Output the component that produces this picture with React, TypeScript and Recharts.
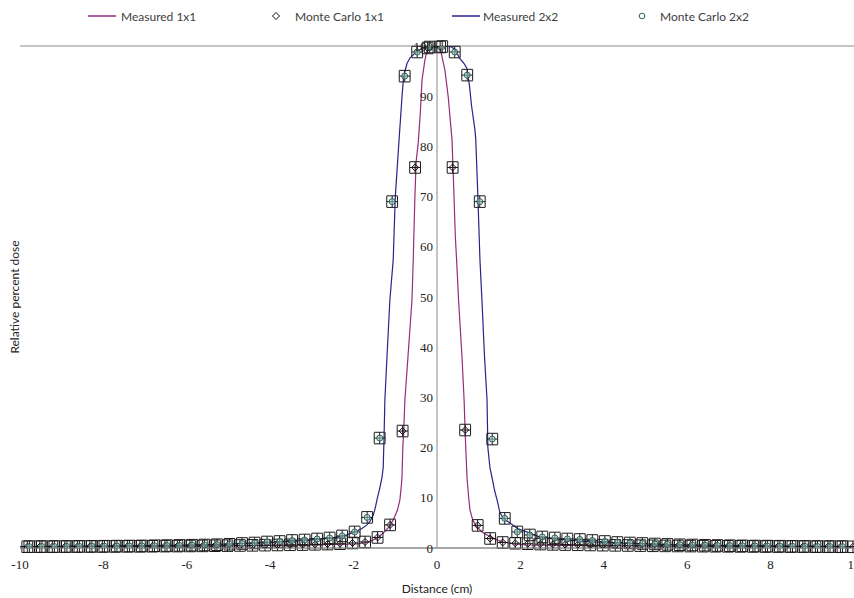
import React from "react";
import {
  ComposedChart,
  Line,
  Scatter,
  ErrorBar,
  XAxis,
  YAxis,
  CartesianGrid,
  ReferenceLine,
  ReferenceDot,
  Legend,
} from "recharts";

const X_TICKS = [-10, -8, -6, -4, -2, 0, 2, 4, 6, 8, 10];
const Y_TICKS = [0, 10, 20, 30, 40, 50, 60, 70, 80, 90, 100];

// measured profiles
const MEAS_1X1_X = [
  -10, -8, -6, -4, -3, -2.5, -1.92, -1.7, -1.53, -1.4, -1.29, -1.15, -1.05, -0.95, -0.89, -0.86, -0.84,
  -0.82, -0.8, -0.77, -0.68, -0.6, -0.57, -0.53, -0.5, -0.45, -0.4, -0.36, -0.29, -0.22, -0.1, 0, 0.07,
  0.13, 0.19, 0.27, 0.36, 0.4, 0.44, 0.47, 0.52, 0.6, 0.65, 0.68, 0.72, 0.76, 0.79, 0.86, 0.96, 1.08,
  1.2, 1.38, 1.58, 1.85, 2.15, 3, 4, 6, 8, 10,
];
const MEAS_1X1_Y = [
  0.25, 0.3, 0.35, 0.5, 0.6, 0.7, 0.8, 1.1, 1.6, 2.2, 3, 4.2, 5.6, 7.5, 9.6, 12, 14,
  20, 23, 29.5, 40, 49.4, 57.4, 70, 77, 80.7, 86.7, 93.2, 97.2, 99.8, 100, 100, 99.8,
  97.5, 95.2, 89.8, 81.3, 72, 62, 57.4, 49, 38, 29.5, 22, 14, 10, 7.6, 5.5, 4.2, 3.2,
  2.6, 1.8, 1.2, 0.8, 0.6, 0.5, 0.45, 0.35, 0.3, 0.25,
];

const MEAS_2X2_X = [
  -10, -8, -6, -5, -4, -3.5, -3, -2.5, -2.2, -2, -1.8, -1.68, -1.6, -1.53, -1.48, -1.44, -1.4, -1.37,
  -1.32, -1.29, -1.27, -1.25, -1.2, -1.13, -1.05, -1, -0.91, -0.84, -0.8, -0.72, -0.65, -0.5, -0.35,
  -0.2, 0, 0.2, 0.35, 0.43, 0.55, 0.65, 0.72, 0.78, 0.83, 0.91, 0.93, 0.98, 1.03, 1.08, 1.14, 1.2,
  1.22, 1.27, 1.32, 1.38, 1.44, 1.51, 1.6, 1.75, 1.95, 2.15, 2.47, 2.8, 3.2, 3.6, 4, 5, 6, 8, 10,
];
const MEAS_2X2_Y = [
  0.3, 0.4, 0.6, 0.8, 1.1, 1.3, 1.6, 2, 2.5, 3.1, 3.9, 4.6, 5.4, 6.5, 8, 9.6, 11, 12,
  14, 16, 22, 29.5, 38, 49.4, 57.4, 70, 81.3, 89.8, 94, 96.5, 97.6, 98.8, 99.6,
  100, 100, 100, 99.8, 99.3, 97.5, 96.5, 95.5, 92, 88, 83.3, 81.3, 70, 57.4, 49, 38, 29.5,
  20, 16, 14, 11.5, 9.6, 7, 5.8, 5, 3.8, 3.2, 2.2, 1.8, 1.5, 1.3, 1.1, 0.8, 0.6, 0.4, 0.3,
];

// Monte Carlo points
const MC_1X1_X = [
  -9.825, -9.525, -9.225, -8.925, -8.625, -8.325, -8.025, -7.725, -7.425, -7.125, -6.825, -6.525,
  -6.225, -5.925, -5.625, -5.325, -5.025, -4.725, -4.425, -4.125, -3.825, -3.525, -3.225, -2.925,
  -2.625, -2.325, -2.025, -1.725, -1.425, -1.125, -0.825, -0.525, -0.225, 0.075, 0.375, 0.675,
  0.975, 1.275, 1.575, 1.875, 2.175, 2.475, 2.775, 3.075, 3.375, 3.675, 3.975, 4.275, 4.575,
  4.875, 5.175, 5.475, 5.775, 6.075, 6.375, 6.675, 6.975, 7.275, 7.575, 7.875, 8.175, 8.475,
  8.775, 9.075, 9.375, 9.675, 9.975,
];
const MC_1X1_Y = [
  0.25, 0.26, 0.26, 0.27, 0.28, 0.3, 0.3, 0.31, 0.33, 0.33, 0.35, 0.37,
  0.38, 0.4, 0.42, 0.45, 0.47, 0.5, 0.53, 0.57, 0.6, 0.64, 0.68, 0.73,
  0.78, 0.85, 1.0, 1.2, 2.1, 4.6, 23.3, 75.8, 99.6, 99.8, 75.8, 23.5,
  4.5, 1.9, 1.1, 0.95, 0.85, 0.78, 0.72, 0.68, 0.64, 0.6, 0.56, 0.53, 0.5,
  0.47, 0.44, 0.42, 0.4, 0.38, 0.36, 0.35, 0.33, 0.32, 0.31, 0.3, 0.29, 0.28,
  0.27, 0.26, 0.25, 0.25, 0.24,
];

const MC_2X2_X = [
  -9.775, -9.475, -9.175, -8.875, -8.575, -8.275, -7.975, -7.675, -7.375, -7.075, -6.775, -6.475,
  -6.175, -5.875, -5.575, -5.275, -4.975, -4.675, -4.375, -4.075, -3.775, -3.475, -3.175, -2.875,
  -2.575, -2.275, -1.975, -1.675, -1.375, -1.075, -0.775, -0.475, -0.175, 0.125, 0.425, 0.725,
  1.025, 1.325, 1.625, 1.925, 2.225, 2.525, 2.825, 3.125, 3.425, 3.725, 4.025, 4.325, 4.625,
  4.925, 5.225, 5.525, 5.825, 6.125, 6.425, 6.725, 7.025, 7.325, 7.625, 7.925, 8.225, 8.525,
  8.825, 9.125, 9.425, 9.725,
];
const MC_2X2_Y = [
  0.28, 0.29, 0.3, 0.31, 0.33, 0.34, 0.36, 0.38, 0.4, 0.42, 0.45, 0.48,
  0.52, 0.56, 0.6, 0.66, 0.75, 0.9, 1.0, 1.2, 1.3, 1.5, 1.6, 1.8,
  2.0, 2.4, 3.2, 6.1, 21.9, 69.0, 94.0, 98.8, 99.8, 99.9, 98.8, 94.2,
  69.0, 21.7, 5.9, 3.2, 2.6, 2.2, 2.0, 1.8, 1.7, 1.5, 1.3, 1.1, 1.0,
  0.9, 0.8, 0.72, 0.65, 0.6, 0.55, 0.5, 0.46, 0.43, 0.4, 0.38, 0.36, 0.34,
  0.32, 0.3, 0.29, 0.28,
];

const MC_ERR_X = 0.13;
const MC_ERR_Y = 1.15;

const meas1 = MEAS_1X1_X.map((x, i) => ({ x, y: MEAS_1X1_Y[i] }));
const meas2 = MEAS_2X2_X.map((x, i) => ({ x, y: MEAS_2X2_Y[i] }));
const mc1 = MC_1X1_X.map((x, i) => ({ x, y: MC_1X1_Y[i], ex: MC_ERR_X, ey: MC_ERR_Y }));
const mc2 = MC_2X2_X.map((x, i) => ({ x, y: MC_2X2_Y[i], ex: MC_ERR_X, ey: MC_ERR_Y }));

const GRAY = "#8a8a8a";
const TEXT = "#222222";
const PURPLE = "#962c7e";
const NAVY = "#25258c";
const TEAL_FILL = "#9fd0c0";
const TEAL_LINE = "#2f5f5a";
const SERIF = "Liberation Serif";
const SANS = "Lato";

const Diamond = (props: any) => {
  const { cx, cy } = props;
  if (cx == null || cy == null) return null;
  const s = 3.5;
  return (
    <path
      d={`M${cx},${cy - s}L${cx + s},${cy}L${cx},${cy + s}L${cx - s},${cy}Z`}
      fill="none"
      stroke="#111"
      strokeWidth={1}
    />
  );
};

const Ring = (props: any) => {
  const { cx, cy } = props;
  if (cx == null || cy == null) return null;
  return <circle cx={cx} cy={cy} r={3} fill={TEAL_FILL} fillOpacity={0.55} stroke={TEAL_LINE} strokeWidth={1} />;
};

const XTick = (props: any) => {
  const { x, y, payload } = props;
  return (
    <text x={x} y={y} dy={10} textAnchor="middle" fill={TEXT} fontSize={13} fontFamily={SERIF}>
      {payload.value}
    </text>
  );
};

const YTickLabel = (props: any) => {
  const { viewBox, value } = props;
  if (!viewBox) return null;
  return (
    <text
      x={viewBox.x - 4}
      y={viewBox.y + (viewBox.height || 0) / 2}
      dy={4.5}
      textAnchor="end"
      fill={TEXT}
      fontSize={13}
      fontFamily={SERIF}
    >
      {value}
    </text>
  );
};

function LegendBox() {
  const item: React.CSSProperties = {
    position: "absolute",
    top: 8,
    display: "flex",
    alignItems: "center",
    height: 16,
    whiteSpace: "nowrap",
  };
  return (
    <div style={{ position: "relative", width: 854, height: 30, fontFamily: SANS, fontSize: 12, color: "#404040" }}>
      <div style={{ ...item, left: 88 }}>
        <svg width={28} height={10}>
          <line x1={0} y1={5} x2={28} y2={5} stroke={PURPLE} strokeWidth={1.5} />
        </svg>
        <span style={{ marginLeft: 5 }}>Measured 1x1</span>
      </div>
      <div style={{ ...item, left: 271 }}>
        <svg width={10} height={10}>
          <path d="M5,1.5L8.5,5L5,8.5L1.5,5Z" fill="#fff" stroke="#111" strokeWidth={1} />
        </svg>
        <span style={{ marginLeft: 14 }}>Monte Carlo 1x1</span>
      </div>
      <div style={{ ...item, left: 452 }}>
        <svg width={28} height={10}>
          <line x1={0} y1={5} x2={28} y2={5} stroke={NAVY} strokeWidth={1.5} />
        </svg>
        <span style={{ marginLeft: 3 }}>Measured 2x2</span>
      </div>
      <div style={{ ...item, left: 637 }}>
        <svg width={10} height={10}>
          <circle cx={5} cy={5} r={2.8} fill="#fff" stroke={TEAL_LINE} strokeWidth={1} />
        </svg>
        <span style={{ marginLeft: 13 }}>Monte Carlo 2x2</span>
      </div>
    </div>
  );
}

export default function App() {
  return (
    <div>
      <style>{"body{margin:0}"}</style>
      <ComposedChart width={854} height={598} margin={{ top: 46, right: 0, bottom: 0, left: 0 }}>
        <CartesianGrid vertical={false} stroke={GRAY} />
        <XAxis
          type="number"
          dataKey="x"
          domain={[-10, 10]}
          ticks={X_TICKS}
          interval={0}
          allowDataOverflow
          axisLine={{ stroke: GRAY }}
          tickLine={false}
          tickMargin={5}
          height={50}
          tick={<XTick />}
          label={{ value: "Distance (cm)", position: "insideBottom", offset: 5, fill: TEXT, fontSize: 12, fontFamily: SANS }}
        />
        <YAxis
          type="number"
          domain={[0, 100]}
          ticks={Y_TICKS}
          allowDataOverflow
          width={20}
          tick={false}
          axisLine={false}
          tickLine={false}
          label={{
            value: "Relative percent dose",
            angle: -90,
            position: "insideLeft",
            offset: 15,
            fill: TEXT,
            fontSize: 12,
            fontFamily: SANS,
            style: { textAnchor: "middle" },
          }}
        />
        <ReferenceLine x={0} stroke={GRAY} />
        <Legend
          verticalAlign="middle"
          align="center"
          layout="horizontal"
          wrapperStyle={{ top: 0, left: 0, width: 854 }}
          content={() => <LegendBox />}
        />
        <Line data={meas1} dataKey="y" name="Measured 1x1" stroke={PURPLE} strokeWidth={1.2} dot={false} isAnimationActive={false} />
        <Line data={meas2} dataKey="y" name="Measured 2x2" stroke={NAVY} strokeWidth={1.2} dot={false} isAnimationActive={false} />
        <Scatter data={mc1} dataKey="y" name="Monte Carlo 1x1" shape={Diamond} isAnimationActive={false}>
          <ErrorBar dataKey="ey" direction="y" width={5.5} stroke="#1a1a1a" strokeWidth={1} isAnimationActive={false} />
          <ErrorBar dataKey="ex" direction="x" width={5.5} stroke="#1a1a1a" strokeWidth={1} isAnimationActive={false} />
        </Scatter>
        <Scatter data={mc2} dataKey="y" name="Monte Carlo 2x2" shape={Ring} isAnimationActive={false}>
          <ErrorBar dataKey="ey" direction="y" width={5.5} stroke="#1a1a1a" strokeWidth={1} isAnimationActive={false} />
          <ErrorBar dataKey="ex" direction="x" width={5.5} stroke="#1a1a1a" strokeWidth={1} isAnimationActive={false} />
        </Scatter>
        {Y_TICKS.map((v) => (
          <ReferenceDot
            key={v}
            x={0}
            y={v}
            r={0}
            fill="none"
            stroke="none"
            ifOverflow="visible"
            label={<YTickLabel value={v} />}
          />
        ))}
      </ComposedChart>
    </div>
  );
}
